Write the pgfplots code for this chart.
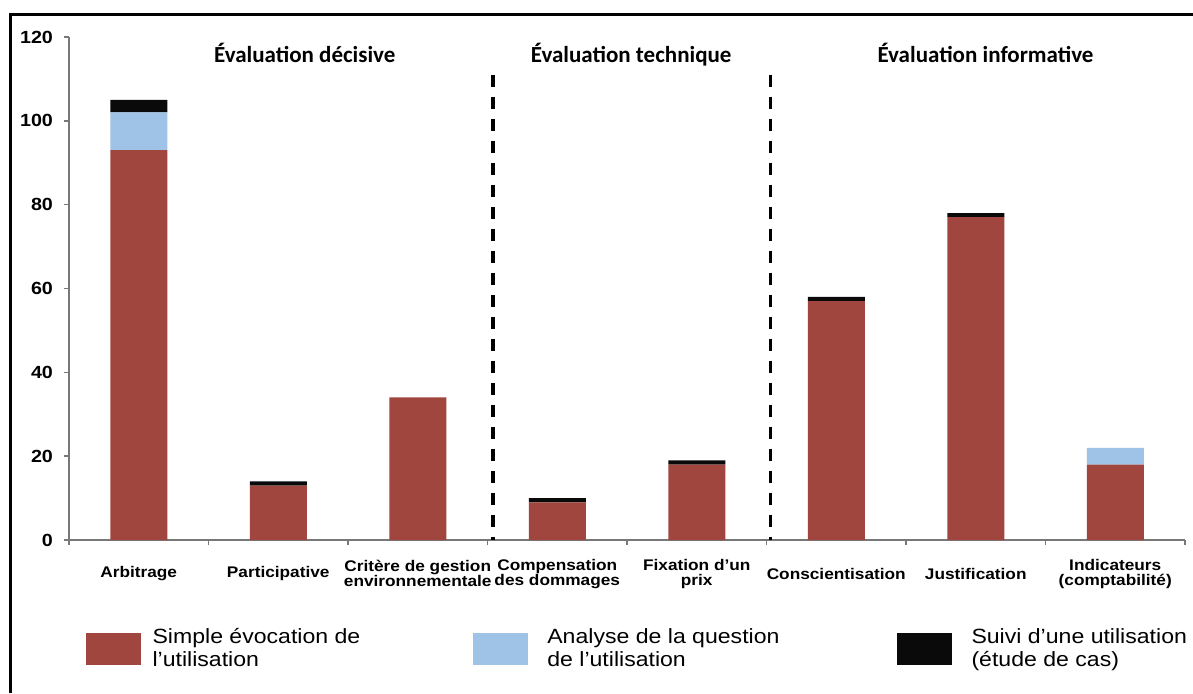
\documentclass[border=0pt]{standalone}
\usepackage{fontspec}
\setmainfont{Liberation Sans}[FakeStretch=1.12]
\newfontfamily\calib{Carlito}
\usepackage{pgfplots}
\pgfplotsset{compat=1.18}

\definecolor{rouge}{RGB}{160,70,62}
\definecolor{bleu}{RGB}{158,195,230}
\definecolor{noir}{RGB}{10,10,10}
\definecolor{axe}{RGB}{120,120,120}

\begin{document}
\begin{tikzpicture}
\fill[white] (0,0) rectangle (596.5pt,346.5pt);
\begin{axis}[
  at={(34.5pt,76.5pt)}, anchor=south west,
  scale only axis, width=558pt, height=251.5pt,
  ybar stacked, bar width=28.5pt,
  xmin=-0.5, xmax=7.5, ymin=0, ymax=120,
  axis x line=bottom, axis y line=left,
  axis line style={axe, line width=0.7pt, -},
  xtick={-0.5,0.5,...,7.5},
  x tick label as interval,
  xticklabels={Arbitrage, Participative, {Critère de gestion\\environnementale},
    {Compensation\\des dommages}, {Fixation d'un\\prix}, Conscientisation,
    Justification, {Indicateurs\\(comptabilité)}},
  xticklabel style={font=\fontsize{7.7}{7.5}\selectfont\bfseries, align=center,
    anchor=center, yshift=-14.3pt},
  ytick={0,20,...,120},
  yticklabel style={font=\fontsize{8.8}{10}\selectfont\bfseries, xshift=-2pt},
  /pgf/number format/assume math mode=true,
  tick style={axe, line width=0.7pt},
  major tick length=2.5pt, tick align=outside,
  legend style={at={(axis description cs:0.0145,-0.217)}, anchor=west,
    draw=none, fill=none, inner sep=0pt, legend columns=3,
    font=\fontsize{10.3}{11.5}\selectfont, cells={align=left, anchor=west},
    /tikz/column 1/.style={column sep=4pt},
    /tikz/column 2/.style={column sep=54.5pt},
    /tikz/column 3/.style={column sep=7.5pt},
    /tikz/column 4/.style={column sep=56.5pt},
    /tikz/column 5/.style={column sep=8pt}},
  legend image code/.code={\fill[#1] (0pt,-8pt) rectangle (27.5pt,8pt);},
]
\addplot[fill=rouge, draw=none] coordinates {
  (0,93) (1,13) (2,34) (3,9) (4,18) (5,57) (6,77) (7,18)};
\addplot[fill=bleu, draw=none] coordinates {
  (0,9) (1,0) (2,0) (3,0) (4,0) (5,0) (6,0) (7,4)};
\addplot[fill=noir, draw=none] coordinates {
  (0,3) (1,1) (2,0) (3,1) (4,1) (5,1) (6,1) (7,0)};
\addlegendentry{Simple évocation de\\l’utilisation}
\addlegendentry{Analyse de la question\\de l’utilisation}
\addlegendentry{Suivi d’une utilisation\\(étude de cas)}

\draw[black, line width=1.8pt, dash pattern=on 6pt off 5pt]
  (axis cs:2.54,111) -- (axis cs:2.54,0);
\draw[black, line width=1.8pt, dash pattern=on 6pt off 5pt]
  (axis cs:4.53,111) -- (axis cs:4.53,0);

\node[anchor=base, font=\calib\bfseries\fontsize{11.5}{13}\selectfont] at (axis cs:1.19,113.8) {Évaluation décisive};
\node[anchor=base, font=\calib\bfseries\fontsize{11.5}{13}\selectfont] at (axis cs:3.53,113.8) {Évaluation technique};
\node[anchor=base, font=\calib\bfseries\fontsize{11.5}{13}\selectfont] at (axis cs:6.07,113.8) {Évaluation informative};
\end{axis}
\draw[line width=1.5pt] (5pt,0) -- (5pt,339.5pt) -- (596.5pt,339.5pt);
\pgfresetboundingbox
\useasboundingbox (0,0) rectangle (596.5pt,346.5pt);
\end{tikzpicture}
\end{document}
